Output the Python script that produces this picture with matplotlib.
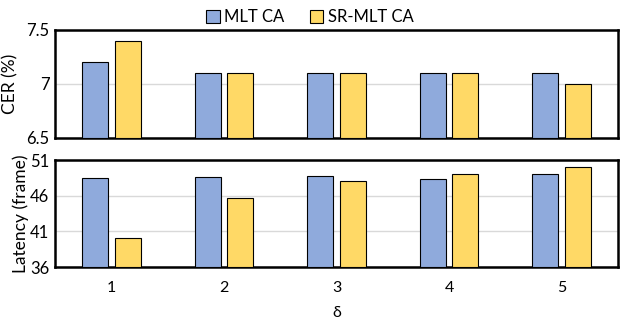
import matplotlib
matplotlib.use("Agg")
import matplotlib.pyplot as plt
import numpy as np

plt.rcParams['font.family'] = ['Lato', 'DejaVu Sans']

# Daten
delta = ['1', '2', '3', '4', '5']
cer_mlt = [7.2, 7.1, 7.1, 7.1, 7.1]
cer_sr = [7.4, 7.1, 7.1, 7.1, 7.0]
lat_mlt = [48.45, 48.55, 48.7, 48.4, 49.0]
lat_sr = [40.1, 45.7, 48.1, 49.1, 50.0]

blau = '#8FAADC'
gelb = '#FFD966'

x = np.arange(len(delta))
w = 0.23
off = 0.145

fig = plt.figure(figsize=(6.2, 3.2), dpi=100)
ax1 = fig.add_axes([55/620, 1-138/320, 563/620, 108/320])
ax2 = fig.add_axes([55/620, 1-267/320, 563/620, 107/320])

for ax, a, b, lim, ticks in [(ax1, cer_mlt, cer_sr, (6.5, 7.5), [6.5, 7, 7.5]),
                              (ax2, lat_mlt, lat_sr, (36, 51), [36, 41, 46, 51])]:
    ax.bar(x - off, np.array(a) - lim[0], w, bottom=lim[0], color=blau,
           edgecolor='black', linewidth=0.8, label='MLT CA', zorder=3)
    ax.bar(x + off, np.array(b) - lim[0], w, bottom=lim[0], color=gelb,
           edgecolor='black', linewidth=0.8, label='SR-MLT CA', zorder=3)
    ax.set_ylim(lim)
    ax.set_yticks(ticks)
    ax.set_yticklabels([('%g' % t) for t in ticks], fontsize=12)
    ax.set_xlim(-0.5, len(delta) - 0.5)
    ax.grid(axis='y', color='#d9d9d9', linewidth=1, zorder=0)
    ax.tick_params(axis='y', length=0, pad=4)
    for s in ax.spines.values():
        s.set_linewidth(1.8)
        s.set_color('black')

ax1.set_xticks([])
ax2.set_xticks(x)
ax2.set_xticklabels(delta, fontsize=11.5)
ax2.tick_params(axis='x', length=0, pad=10)
ax2.set_xlabel('δ', fontsize=11.5, labelpad=8)

ax1.set_ylabel('CER (%)', fontsize=12.5, labelpad=6)
ax2.set_ylabel('Latency (frame)', fontsize=12.5, labelpad=1)

h, l = ax1.get_legend_handles_labels()
fig.legend(h, l, loc='center', bbox_to_anchor=(0.5, 1-17/320), ncol=2,
           frameon=False, fontsize=12, handlelength=0.8, handleheight=0.8,
           columnspacing=1.5, handletextpad=0.3)

fig.savefig('out.png', dpi=100)
